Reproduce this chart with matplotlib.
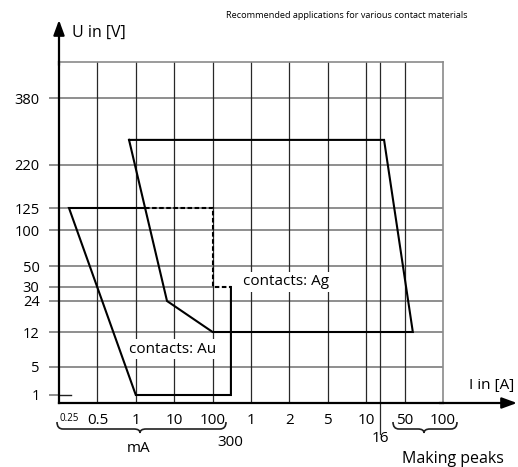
import numpy as np
import matplotlib
matplotlib.use("Agg")
import matplotlib.pyplot as plt
from matplotlib.path import Path
from matplotlib.patches import PathPatch

plt.rcParams['font.family'] = ['Open Sans', 'DejaVu Sans']

# ---------------- data ----------------
x_tick_values = [0.25e-3, 0.5e-3, 1e-3, 1e-2, 0.1, 1, 2, 5, 10, 50, 100]   # current in A
x_tick_labels = ['0.25', '0.5', '1', '10', '100', '1', '2', '5', '10', '50', '100']
x_grid_values = [0.5e-3, 1e-3, 1e-2, 0.1, 1, 2, 5, 10, 16, 50]
y_tick_values = [1, 5, 12, 24, 30, 50, 100, 125, 220, 380]                  # voltage in V
y_tick_labels = ['1', '5', '12', '24', '30', '50', '100', '125', '220', '380']
y_grid_values = [5, 12, 24, 50, 100, 125, 220, 380]

ag_current = [0.885e-3, 19.3, 58, 0.1, 6.5e-3, 0.885e-3]
ag_voltage = [270, 270, 12, 12, 24, 270]
au_solid_current = [1.74e-3, 0.25e-3, 1e-3, 0.3, 0.3]
au_solid_voltage = [125, 125, 1, 1, 30]
au_dashed_current = [1.74e-3, 0.1, 0.1, 0.3]
au_dashed_voltage = [125, 125, 30, 30]

# ------------- schematic (non-uniform) axis layout -------------
x_anchor_vals = [1e-12, 0.2e-3, 0.25e-3, 0.5e-3, 1e-3, 1e-2, 0.1, 1, 2, 5, 10, 16, 50, 100, 1e12]
x_anchor_pos = [-1e4, 0, 0.26, 1, 2, 3, 4, 5, 6, 7, 8, 8.36, 9, 10, 1e4]
y_anchor_vals = [1e-12, 0.5, 1, 5, 12, 24, 30, 50, 100, 125, 220, 380, 600, 1e12]
y_anchor_pos = [-1e6, 0, 8, 36, 71, 102, 116, 137, 173, 195, 238, 305, 341, 1e6]


def make_funcs(vals, pos):
    lv = np.log10(np.asarray(vals, float))
    pos = np.asarray(pos, float)

    def fwd(v):
        v = np.asarray(v, float)
        with np.errstate(all='ignore'):
            l = np.log10(np.where(v > 0, v, 1e-300))
        return np.interp(l, lv, pos)

    def inv(p):
        p = np.asarray(p, float)
        return 10 ** np.interp(p, pos, lv)
    return fwd, inv


W, H = 518, 467
fig = plt.figure(figsize=(W / 100, H / 100), dpi=100)


def px(x, y):
    return (x / W, 1 - y / H)


ax = fig.add_axes([59 / W, 64 / H, 384 / W, 341 / H])
ax.set_xscale('function', functions=make_funcs(x_anchor_vals, x_anchor_pos))
ax.set_yscale('function', functions=make_funcs(y_anchor_vals, y_anchor_pos))
ax.set_xlim(0.2e-3, 100)
ax.set_ylim(0.5, 600)
ax.minorticks_off()

grid_h = '#707070'
grid_v = '#282828'

for v in y_grid_values:
    ax.axhline(v, color=grid_h, lw=1.1, zorder=1)
ax.hlines(30, 0.2e-3, 0.1, color=grid_h, lw=1.1, zorder=1)
for v in x_grid_values:
    ax.axvline(v, color=grid_v, lw=0.9, zorder=1)
# 16 A line extends below the axis
ax.axvline(16, ymin=-31 / 341, ymax=0, color=grid_v, lw=0.9, zorder=1, clip_on=False)
# short mark at 1 V
ax.plot([0, 12 / 384], [1, 1], transform=ax.get_yaxis_transform(), color='#202020', lw=1.0,
        clip_on=False, zorder=2)

for s in ['top', 'right']:
    ax.spines[s].set_color('#8a8a8a')
    ax.spines[s].set_linewidth(1.2)
for s in ['left', 'bottom']:
    ax.spines[s].set_color('black')
    ax.spines[s].set_linewidth(1.6)

ax.set_yticks(y_tick_values, y_tick_labels)
ax.tick_params(axis='y', length=7, width=1.1, color=grid_h, pad=7, labelsize=10.5)
ax.set_xticks(x_tick_values, x_tick_labels)
ax.tick_params(axis='x', length=0, pad=7, labelsize=11)
ax.get_xticklabels()[0].set_fontsize(7)

# polygons
ax.plot(ag_current, ag_voltage, color='black', lw=1.5, zorder=4, solid_joinstyle='miter')
ax.plot(au_solid_current, au_solid_voltage, color='black', lw=1.5, zorder=4, solid_joinstyle='miter')
ax.plot(au_dashed_current, au_dashed_voltage, color='black', lw=1.5, zorder=4,
        linestyle=(0, (2.2, 1.2)))

box = dict(facecolor='white', edgecolor='none', pad=2)
ax.text(1.88, 33.9, 'contacts: Ag', ha='center', va='center', fontsize=11, bbox=box, zorder=3)
ax.text(9.3e-3, 7.8, 'contacts: Au', ha='center', va='center', fontsize=11, bbox=box, zorder=3)

# axis arrows
arrow = dict(arrowstyle='-|>,head_length=0.6,head_width=0.22', mutation_scale=15,
             lw=1.6, color='black', shrinkA=0, shrinkB=0)
ax.annotate('', xy=(0, (403 - 20) / 341), xytext=(0, 0.99), xycoords='axes fraction',
            textcoords='axes fraction', arrowprops=arrow, annotation_clip=False)
ax.annotate('', xy=((517 - 59) / 384, 0), xytext=(0.99, 0), xycoords='axes fraction',
            textcoords='axes fraction', arrowprops=arrow, annotation_clip=False)


def brace(x0, x1, xm, ytop, d=7, tip=4, r=6):
    pts = [px(x0, ytop), px(x0, ytop + d), px(x0 + r, ytop + d),
           px(xm - r, ytop + d), px(xm, ytop + d), px(xm, ytop + d + tip),
           px(xm, ytop + d), px(xm + r, ytop + d),
           px(x1 - r, ytop + d), px(x1, ytop + d), px(x1, ytop)]
    codes = [Path.MOVETO, Path.CURVE3, Path.CURVE3,
             Path.LINETO, Path.CURVE3, Path.CURVE3,
             Path.CURVE3, Path.CURVE3,
             Path.LINETO, Path.CURVE3, Path.CURVE3]
    fig.add_artist(PathPatch(Path(pts, codes), transform=fig.transFigure, fill=False,
                             edgecolor='#202020', lw=1.2))


brace(57, 226, 140, 422)
brace(393, 457, 424, 422)

fig.text(*px(139, 448), 'mA', ha='center', va='center', fontsize=11)
fig.text(*px(230, 443), '300', ha='center', va='center', fontsize=11)
fig.text(*px(380, 438), '16', ha='center', va='center', fontsize=11)
fig.text(*px(453, 459), 'Making peaks', ha='center', va='center', fontsize=11.5)
fig.text(*px(514, 385), 'I in [A]', ha='right', va='center', fontsize=11)
fig.text(*px(72, 33), 'U in [V]', ha='left', va='center', fontsize=11.5)
fig.text(*px(347, 15), 'Recommended applications for various contact materials',
         ha='center', va='center', fontsize=6.6)

fig.savefig('out.png', dpi=100)
